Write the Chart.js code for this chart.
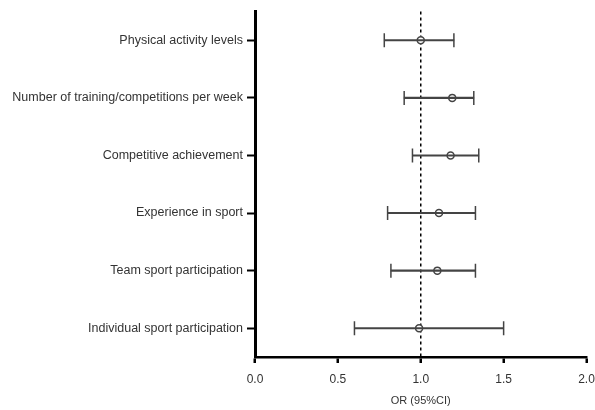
<!DOCTYPE html>
<html>
<head>
<meta charset="utf-8">
<script src="https://cdn.jsdelivr.net/npm/chart.js@4"></script>
<style>
  body { margin: 0; background: #fff; }
  .wrap { width: 595px; height: 410px; }
</style>
</head>
<body>
<div class="wrap"><canvas id="forest"></canvas></div>
<script>
const factors = [
    "Physical activity levels",
    "Number of training/competitions per week",
    "Competitive achievement",
    "Experience in sport",
    "Team sport participation",
    "Individual sport participation"
];
const oddsRatio = [1.00, 1.19, 1.18, 1.11, 1.10, 0.99];
const ciLow = [0.78, 0.90, 0.95, 0.80, 0.82, 0.60];
const ciHigh = [1.20, 1.32, 1.35, 1.33, 1.33, 1.50];
const xTicks = [0, 0.5, 1, 1.5, 2];

const barColor = '#444';

const capSet = (vals) => ({
    type: 'line',
    indexAxis: 'y',
    data: vals,
    showLine: false,
    pointStyle: 'line',
    rotation: 90,
    pointRadius: 7,
    pointBorderWidth: 1.5,
    borderColor: barColor,
    backgroundColor: barColor
});

new Chart(document.getElementById('forest'), {
    type: 'bar',
    data: {
        labels: factors,
        datasets: [
            {
                data: factors.map((f, i) => [ciLow[i], ciHigh[i]]),
                backgroundColor: barColor,
                barThickness: 1.5,
                borderSkipped: false
            },
            capSet(ciLow),
            capSet(ciHigh),
            {
                type: 'line',
                indexAxis: 'y',
                data: oddsRatio,
                showLine: false,
                pointStyle: 'circle',
                pointRadius: 3.5,
                pointBorderWidth: 1.5,
                borderColor: barColor,
                pointBackgroundColor: '#fff'
            }
        ]
    },
    options: {
        indexAxis: 'y',
        responsive: true,
        maintainAspectRatio: false,
        animation: false,
        layout: { padding: { top: 10, right: 0, left: 0, bottom: 0 } },
        plugins: {
            legend: { display: false },
            tooltip: { enabled: false }
        },
        scales: {
            x: {
                type: 'linear',
                min: 0,
                max: 2,
                afterBuildTicks: s => { s.ticks = xTicks.map(v => ({ value: v })); },
                afterFit: s => {
                    s.height = 53;
                    s.paddingLeft = 0;
                    s.paddingRight = 8;
                },
                border: { color: '#000', width: 2.5, dash: [3, 3] },
                grid: {
                    color: c => (c.tick && c.tick.value === 1 ? '#000' : 'transparent'),
                    lineWidth: 1.5,
                    drawTicks: true,
                    tickLength: 6,
                    tickColor: '#000',
                    tickWidth: 2.5,
                    tickBorderDash: [0, 0]
                },
                ticks: {
                    color: '#333',
                    font: { family: 'Liberation Sans, Arial, sans-serif', size: 12 },
                    padding: 9,
                    maxRotation: 0,
                    callback: v => Number(v).toFixed(1)
                },
                title: {
                    display: true,
                    text: 'OR (95%CI)',
                    color: '#333',
                    font: { family: 'Liberation Sans, Arial, sans-serif', size: 11 },
                    padding: { top: 0, bottom: 2 }
                }
            },
            y: {
                offset: true,
                afterFit: s => { s.width = 255; },
                border: { color: '#000', width: 3 },
                grid: {
                    offset: false,
                    drawOnChartArea: false,
                    drawTicks: true,
                    tickLength: 8,
                    tickColor: '#000',
                    tickWidth: 2
                },
                ticks: {
                    color: '#333',
                    font: { family: 'Liberation Sans, Arial, sans-serif', size: 12.5 },
                    padding: 4
                }
            }
        }
    }
});
</script>
</body>
</html>
